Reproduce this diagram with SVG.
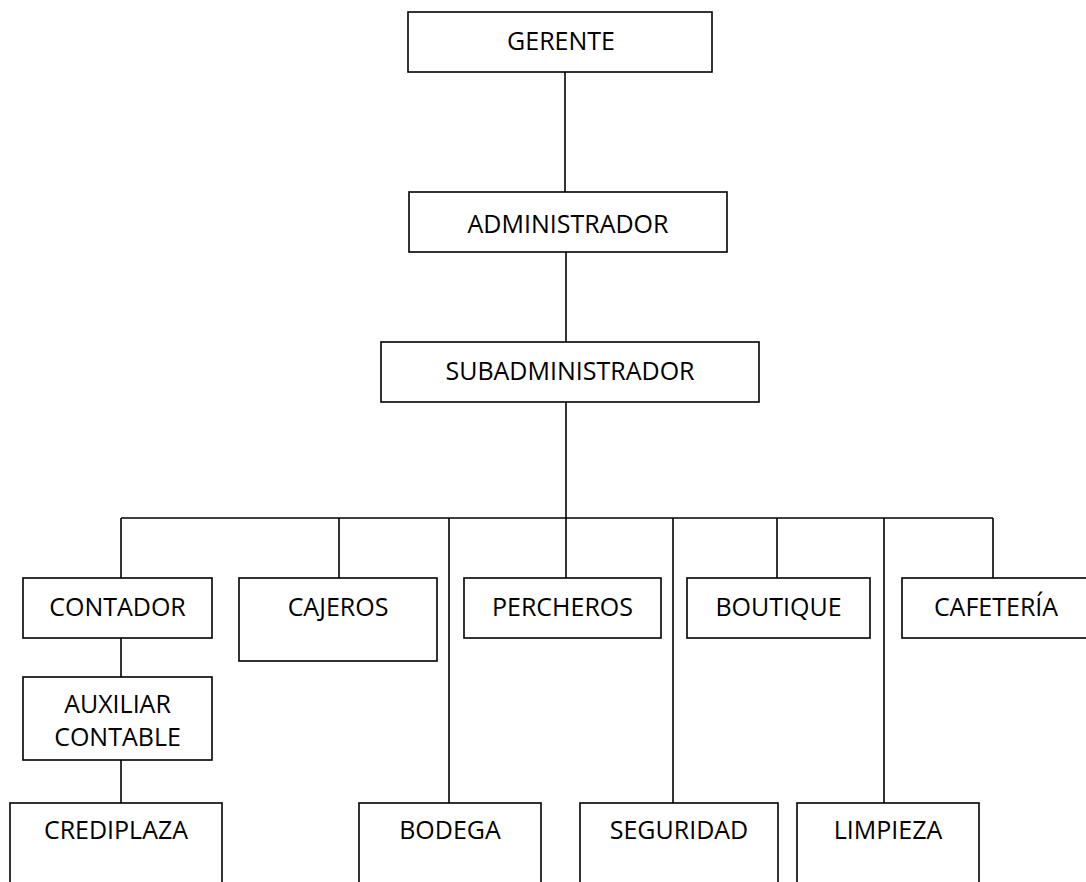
<svg xmlns="http://www.w3.org/2000/svg" width="1086" height="882" viewBox="0 0 1086 882">
<style>
.box{fill:#fff;stroke:#000;stroke-width:1.6}
.lbl{font-family:"Open Sans","Liberation Sans",sans-serif;font-size:25px;fill:#000;text-anchor:middle}
.conn line{stroke:#000;stroke-width:1.6}
</style>
<rect width="1086" height="882" fill="#fff"/>
<g id="connectors" class="conn">
<line x1="565" y1="72" x2="565" y2="192"/>
<line x1="566" y1="252" x2="566" y2="342"/>
<line x1="566" y1="402" x2="566" y2="518"/>
<line x1="121" y1="518" x2="993" y2="518"/>
<line x1="121" y1="518" x2="121" y2="578"/>
<line x1="339" y1="518" x2="339" y2="578"/>
<line x1="449" y1="518" x2="449" y2="803"/>
<line x1="566" y1="518" x2="566" y2="578"/>
<line x1="673" y1="518" x2="673" y2="803"/>
<line x1="777" y1="518" x2="777" y2="578"/>
<line x1="884" y1="518" x2="884" y2="803"/>
<line x1="993" y1="518" x2="993" y2="578"/>
<line x1="121" y1="638" x2="121" y2="677"/>
<line x1="121" y1="760" x2="121" y2="803"/>
</g>
<g id="gerente"><rect class="box" x="408" y="12" width="304" height="60"/><text class="lbl" x="561" y="50">GERENTE</text></g>
<g id="administrador"><rect class="box" x="409" y="192" width="318" height="60"/><text class="lbl" x="568" y="233">ADMINISTRADOR</text></g>
<g id="subadministrador"><rect class="box" x="381" y="342" width="378" height="60"/><text class="lbl" x="570" y="380">SUBADMINISTRADOR</text></g>
<g id="contador"><rect class="box" x="23" y="578" width="189" height="60"/><text class="lbl" x="117.5" y="616">CONTADOR</text></g>
<g id="cajeros"><rect class="box" x="239" y="578" width="198" height="83"/><text class="lbl" x="338" y="616">CAJEROS</text></g>
<g id="percheros"><rect class="box" x="464" y="578" width="197" height="60"/><text class="lbl" x="562.5" y="616">PERCHEROS</text></g>
<g id="boutique"><rect class="box" x="687" y="578" width="183" height="60"/><text class="lbl" x="778.5" y="616">BOUTIQUE</text></g>
<g id="cafeteria"><rect class="box" x="902" y="578" width="190" height="60"/><text class="lbl" x="996" y="616">CAFETERÍA</text></g>
<g id="auxiliar-contable"><rect class="box" x="23" y="677" width="189" height="83"/><text class="lbl" x="117.5" y="713">AUXILIAR</text><text class="lbl" x="117.5" y="746">CONTABLE</text></g>
<g id="crediplaza"><rect class="box" x="10" y="803" width="212" height="100"/><text class="lbl" x="116" y="839">CREDIPLAZA</text></g>
<g id="bodega"><rect class="box" x="359" y="803" width="182" height="100"/><text class="lbl" x="450" y="839">BODEGA</text></g>
<g id="seguridad"><rect class="box" x="580" y="803" width="198" height="100"/><text class="lbl" x="679" y="839">SEGURIDAD</text></g>
<g id="limpieza"><rect class="box" x="797" y="803" width="182" height="100"/><text class="lbl" x="888" y="839">LIMPIEZA</text></g>
</svg>
